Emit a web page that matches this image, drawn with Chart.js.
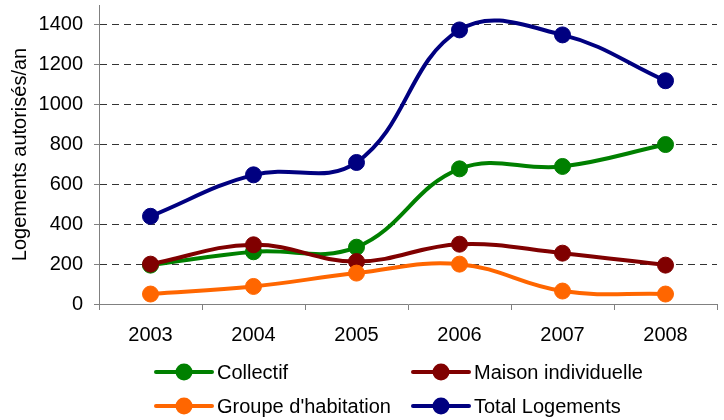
<!DOCTYPE html>
<html>
<head>
<meta charset="utf-8">
<script src="https://cdn.jsdelivr.net/npm/chart.js@4.4.1/dist/chart.umd.min.js"></script>
<style>
  html, body { margin: 0; padding: 0; background: #fff; }
</style>
</head>
<body>
<canvas id="chart" width="724" height="420"></canvas>
<script>
// données
var annees = ['2003', '2004', '2005', '2006', '2007', '2008'];
var collectif = [195, 262, 285, 678, 690, 800];
var maisonIndividuelle = [200, 297, 213, 300, 255, 195];
var groupeHabitation = [50, 88, 155, 200, 65, 50];
var totalLogements = [440, 648, 710, 1375, 1350, 1120];
var graduationsY = [0, 200, 400, 600, 800, 1000, 1200, 1400];

var POLICE = '"Liberation Sans", Arial, sans-serif';

// légende sur deux colonnes, dessinée à la main
var legendeMaison = {
    id: 'legendeMaison',
    afterDraw: function (chart) {
        var ctx = chart.ctx;
        var places = [[156, 372], [413, 372], [156, 406], [413, 406]];
        chart.data.datasets.forEach(function (ds, i) {
            var x = places[i][0], y = places[i][1];
            ctx.save();
            ctx.strokeStyle = ds.borderColor;
            ctx.lineWidth = 4;
            ctx.lineCap = 'round';
            ctx.beginPath();
            ctx.moveTo(x, y);
            ctx.lineTo(x + 56, y);
            ctx.stroke();
            ctx.fillStyle = ds.borderColor;
            ctx.beginPath();
            ctx.arc(x + 28, y, 8.5, 0, Math.PI * 2);
            ctx.fill();
            ctx.fillStyle = '#000';
            ctx.font = '20px ' + POLICE;
            ctx.textBaseline = 'middle';
            ctx.textAlign = 'left';
            ctx.fillText(ds.label, x + 61, y + 1);
            ctx.restore();
        });
    }
};

function serie(label, data, couleur, ordre) {
    return {
        label: label,
        data: data,
        borderColor: couleur,
        backgroundColor: couleur,
        borderWidth: 4,
        pointRadius: 8,
        pointBorderWidth: 1,
        pointHoverRadius: 8,
        tension: 0.4,
        order: ordre
    };
}

var ctx = document.getElementById('chart').getContext('2d');
var graphique = new Chart(ctx, {
    type: 'line',
    data: {
        labels: annees,
        datasets: [
            serie('Collectif', collectif, '#008000', 4),
            serie('Maison individuelle', maisonIndividuelle, '#800000', 3),
            serie("Groupe d'habitation", groupeHabitation, '#FF6600', 2),
            serie('Total Logements', totalLogements, '#000080', 1)
        ]
    },
    options: {
        responsive: false,
        animation: false,
        layout: { autoPadding: false, padding: { left: 0, top: 5, right: 7, bottom: 77 } },
        plugins: {
            legend: { display: false },
            tooltip: { enabled: false }
        },
        scales: {
            x: {
                offset: true,
                afterFit: function (scale) { scale.height = 39; },
                grid: {
                    offset: true,
                    drawOnChartArea: false,
                    tickLength: 6,
                    color: '#808080'
                },
                border: { color: '#808080', width: 1 },
                ticks: {
                    color: '#000',
                    padding: 13,
                    font: { family: POLICE, size: 20 },
                    maxRotation: 0
                }
            },
            y: {
                min: 0,
                max: 1500,
                afterFit: function (scale) {
                    scale.width = 99;
                    scale.paddingTop = 0;
                    scale.paddingBottom = 0;
                },
                afterBuildTicks: function (scale) {
                    scale.ticks = graduationsY.map(function (v) { return { value: v }; });
                },
                grid: {
                    color: function (c) { return c.tick && c.tick.value === 0 ? 'rgba(0,0,0,0)' : '#333'; },
                    tickColor: '#808080',
                    tickLength: 5,
                    tickBorderDash: [1, 0],
                    lineWidth: 1
                },
                border: { color: '#808080', width: 1, dash: [7, 5] },
                ticks: {
                    color: '#000',
                    padding: 11,
                    font: { family: POLICE, size: 20 },
                    callback: function (v) { return String(v); }
                },
                title: {
                    display: true,
                    text: 'Logements autorisés/an',
                    color: '#000',
                    font: { family: POLICE, size: 20 },
                    padding: { top: 8, bottom: 0 }
                }
            }
        }
    },
    plugins: [legendeMaison]
});
</script>
</body>
</html>
